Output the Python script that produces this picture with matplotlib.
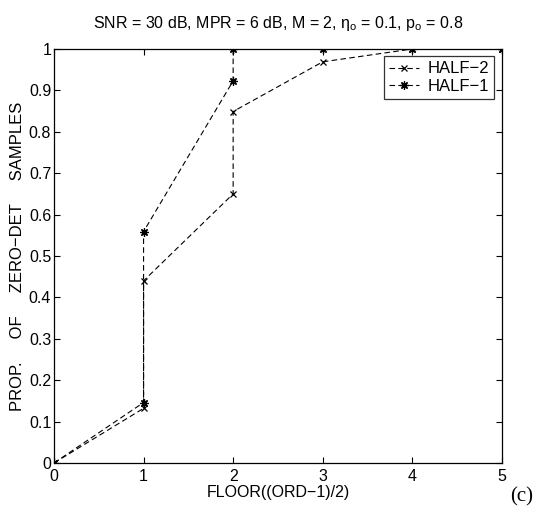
import matplotlib
matplotlib.use("Agg")
import matplotlib.pyplot as plt

# Data (x repeated where the curve jumps vertically)
half2_x = [0, 1, 1, 2, 2, 3, 4, 5]
half2_y = [0.0, 0.132, 0.44, 0.65, 0.849, 0.969, 1.0, 1.0]
half1_x = [0, 1, 1, 2, 2, 3, 4, 5]
half1_y = [0.0, 0.146, 0.559, 0.923, 1.0, 1.0, 1.0, 1.0]

xticks = [0, 1, 2, 3, 4, 5]
yticks = [0, 0.1, 0.2, 0.3, 0.4, 0.5, 0.6, 0.7, 0.8, 0.9, 1]
ytick_labels = ["0", "0.1", "0.2", "0.3", "0.4", "0.5", "0.6", "0.7", "0.8", "0.9", "1"]

plt.rcParams['font.family'] = ['Liberation Sans', 'DejaVu Sans']

fig = plt.figure(figsize=(5.42, 5.13), dpi=100)
ax = fig.add_axes([0.0996, 0.0975, 0.8264, 0.807])

ax.plot(half2_x, half2_y, linestyle=(0, (5, 3)), color='black', linewidth=0.8,
        marker='x', markersize=4, markeredgewidth=0.9, label='HALF\u22122')
ax.plot(half1_x, half1_y, linestyle=(0, (5, 3)), color='black', linewidth=0.8,
        marker=(8, 2, 0), markersize=6, markeredgewidth=0.9, label='HALF\u22121')

ax.set_xlim(0, 5)
ax.set_ylim(0, 1)
ax.set_xticks(xticks)
ax.set_yticks(yticks)
ax.set_yticklabels(ytick_labels)
ax.tick_params(direction='in', top=True, right=True, labelsize=11.5, length=4, width=0.8)
ax.tick_params(axis='x', pad=4)
ax.tick_params(axis='y', pad=2)
for s in ax.spines.values():
    s.set_linewidth(0.9)

ax.set_title('SNR = 30 dB, MPR = 6 dB, M = 2, $\\mathregular{\\eta_o}$ = 0.1, $\\mathregular{p_o}$ = 0.8',
             fontsize=11.5, pad=15)
ax.set_xlabel('FLOOR((ORD\u22121)/2)', fontsize=11.5, labelpad=1)
ax.set_ylabel('PROP.     OF     ZERO\u2212DET     SAMPLES', fontsize=12, labelpad=3)

leg = ax.legend(loc='upper right', fontsize=12, frameon=True, fancybox=False,
                edgecolor='black', borderpad=0.3, handlelength=1.8, handletextpad=0.5,
                labelspacing=0.15, borderaxespad=0.45)
leg.get_frame().set_linewidth(0.9)

fig.text(0.963, 0.012, '(c)', fontsize=15, family='Liberation Serif', ha='center', va='bottom')

fig.savefig('out.png', dpi=100)
